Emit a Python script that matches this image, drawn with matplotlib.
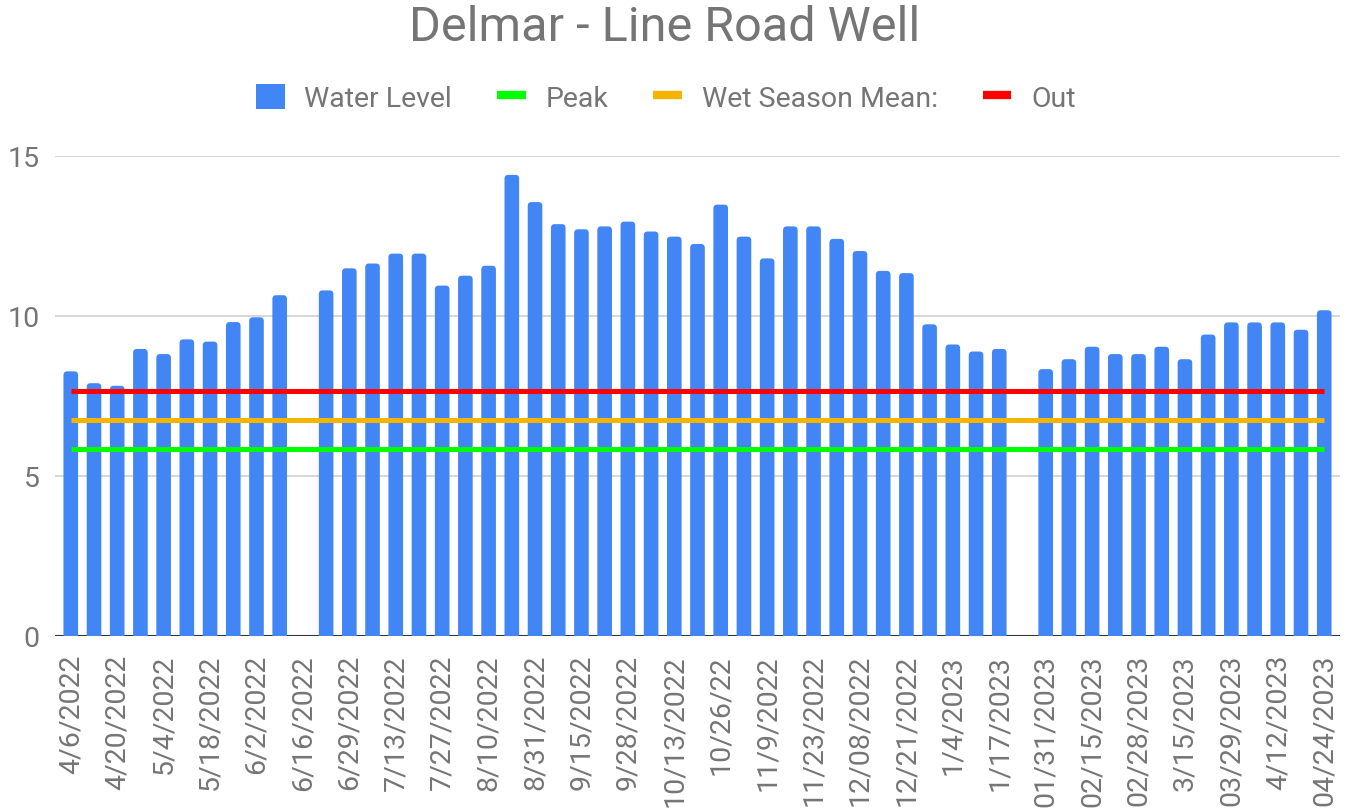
import numpy as np
import matplotlib.pyplot as plt
from matplotlib.lines import Line2D
from matplotlib.patches import Patch, FancyBboxPatch

# Water level readings (one per visit); nan = no reading that day
water_level = [
    8.27, 7.90, 7.82, 8.97, 8.81, 9.27, 9.20, 9.81, 9.96, 10.65,
    np.nan, 10.80, 11.49, 11.64, 11.95, 11.95, 10.95, 11.26, 11.57, 14.41,
    13.56, 12.87, 12.71, 12.80, 12.95, 12.64, 12.48, 12.25, 13.48, 12.48,
    11.80, 12.80, 12.80, 12.41, 12.03, 11.41, 11.34, 9.74, 9.11, 8.89,
    8.97, np.nan, 8.34, 8.65, 9.04, 8.81, 8.81, 9.04, 8.65, 9.42,
    9.80, 9.80, 9.80, 9.57, 10.18,
]

# Only every other visit is labelled on the axis
tick_labels = [
    "4/6/2022", "4/20/2022", "5/4/2022", "5/18/2022", "6/2/2022",
    "6/16/2022", "6/29/2022", "7/13/2022", "7/27/2022", "8/10/2022",
    "8/31/2022", "9/15/2022", "9/28/2022", "10/13/2022", "10/26/22",
    "11/9/2022", "11/23/2022", "12/08/2022", "12/21/2022", "1/4/2023",
    "1/17/2023", "01/31/2023", "02/15/2023", "02/28/2023", "3/15/2023",
    "03/29/2023", "4/12/2023", "04/24/2023",
]

peak = 5.85
wet_season_mean = 6.75
out_level = 7.65

BLUE = "#4285F4"
GREEN = "#00FF00"
ORANGE = "#F4B400"
RED = "#FF0000"
TEXT = "#757575"

plt.rcParams['font.family'] = ['Roboto', 'DejaVu Sans']

W, H = 1348, 812
fig = plt.figure(figsize=(W / 100, H / 100), dpi=100)
ax = fig.add_axes([55 / W, 1 - 637 / H, (1340 - 55) / W, (637 - 157) / H])

x = np.arange(len(water_level))
bars = ax.bar(x, water_level, width=0.63, color=BLUE, zorder=2)

# swap the plain bars for ones with slightly rounded tops
# (bottom pushed below 0 so the lower corners get clipped away)
r = 0.16
for b in bars:
    h = b.get_height()
    if np.isnan(h):
        continue
    fb = FancyBboxPatch((b.get_x(), -0.3), b.get_width(), h + 0.3,
                        boxstyle=f"round,pad=0,rounding_size={r}",
                        mutation_aspect=0.75, facecolor=BLUE,
                        edgecolor='none', zorder=2)
    ax.add_patch(fb)
    b.set_visible(False)

for level, color in [(peak, GREEN), (wet_season_mean, ORANGE), (out_level, RED)]:
    ax.plot(x, [level] * len(x), color=color, lw=3.6, zorder=3,
            solid_capstyle='butt')

ax.axhline(0, color="#333333", lw=1.5, zorder=1)

ax.set_ylim(0, 15)
ax.set_xlim(-0.68, len(x) - 1 + 0.68)
ax.set_yticks([0, 5, 10, 15])
ax.grid(axis='y', color="#cccccc", lw=1.1, zorder=0)
ax.set_axisbelow(True)
for s in ax.spines.values():
    s.set_visible(False)

ax.set_xticks(x[::2])
ax.set_xticklabels(tick_labels, rotation=90, ha='center', va='top')
ax.tick_params(axis='x', length=0, pad=13, labelsize=20.5, labelcolor=TEXT)
ax.tick_params(axis='y', length=0, pad=11, labelsize=20.5, labelcolor=TEXT)

fig.text(665 / W, 1 - 28 / H, "Delmar - Line Road Well", ha='center',
         va='center', fontsize=35, color=TEXT)

handles = [
    Patch(facecolor=BLUE, label="Water Level"),
    Line2D([0], [0], color=GREEN, lw=6, solid_capstyle='butt', label="Peak"),
    Line2D([0], [0], color=ORANGE, lw=6, solid_capstyle='butt', label="Wet Season Mean:"),
    Line2D([0], [0], color=RED, lw=6, solid_capstyle='butt', label="Out"),
]
leg = fig.legend(handles=handles, loc='center', bbox_to_anchor=(666 / W, 1 - 99 / H),
                 ncol=4, frameon=False, fontsize=20.5, handlelength=1.0,
                 handleheight=1.0, handletextpad=0.7, columnspacing=1.58)
for t in leg.get_texts():
    t.set_color(TEXT)

fig.savefig("out.png", dpi=100)
